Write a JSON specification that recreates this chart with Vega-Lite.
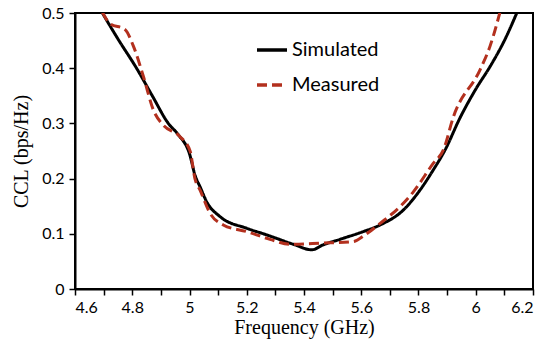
{
  "$schema": "https://vega.github.io/schema/vega-lite/v6.json",
  "autosize": "none",
  "padding": {"left": 75, "top": 13, "right": 17, "bottom": 61},
  "width": 458,
  "height": 276,
  "config": {
    "view": {"stroke": "black", "strokeWidth": 2},
    "axis": {
      "grid": false,
      "domainColor": "black",
      "domainWidth": 2,
      "tickColor": "black",
      "tickWidth": 1.5,
      "tickSize": 6,
      "labelFont": "Lato",
      "labelFontSize": 16,
      "labelColor": "black",
      "titleFont": "Liberation Serif",
      "titleFontSize": 20,
      "titleFontWeight": "normal",
      "titleColor": "black"
    }
  },
  "data": {
    "values": [
      {"f": 4.69, "ccl": 0.505, "s": "Simulated"},
      {"f": 4.75, "ccl": 0.453, "s": "Simulated"},
      {"f": 4.815, "ccl": 0.4, "s": "Simulated"},
      {"f": 4.87, "ccl": 0.35, "s": "Simulated"},
      {"f": 4.926, "ccl": 0.3, "s": "Simulated"},
      {"f": 4.96, "ccl": 0.28, "s": "Simulated"},
      {"f": 5.0, "ccl": 0.245, "s": "Simulated"},
      {"f": 5.02, "ccl": 0.205, "s": "Simulated"},
      {"f": 5.037, "ccl": 0.185, "s": "Simulated"},
      {"f": 5.06, "ccl": 0.158, "s": "Simulated"},
      {"f": 5.107, "ccl": 0.131, "s": "Simulated"},
      {"f": 5.2, "ccl": 0.11, "s": "Simulated"},
      {"f": 5.27, "ccl": 0.098, "s": "Simulated"},
      {"f": 5.363, "ccl": 0.081, "s": "Simulated"},
      {"f": 5.427, "ccl": 0.071, "s": "Simulated"},
      {"f": 5.467, "ccl": 0.08, "s": "Simulated"},
      {"f": 5.526, "ccl": 0.09, "s": "Simulated"},
      {"f": 5.607, "ccl": 0.104, "s": "Simulated"},
      {"f": 5.666, "ccl": 0.116, "s": "Simulated"},
      {"f": 5.747, "ccl": 0.143, "s": "Simulated"},
      {"f": 5.805, "ccl": 0.179, "s": "Simulated"},
      {"f": 5.852, "ccl": 0.216, "s": "Simulated"},
      {"f": 5.893, "ccl": 0.252, "s": "Simulated"},
      {"f": 5.945, "ccl": 0.31, "s": "Simulated"},
      {"f": 6.0, "ccl": 0.362, "s": "Simulated"},
      {"f": 6.05, "ccl": 0.403, "s": "Simulated"},
      {"f": 6.1, "ccl": 0.45, "s": "Simulated"},
      {"f": 6.145, "ccl": 0.502, "s": "Simulated"},
      {"f": 4.695, "ccl": 0.502, "s": "Measured"},
      {"f": 4.722, "ccl": 0.481, "s": "Measured"},
      {"f": 4.775, "ccl": 0.47, "s": "Measured"},
      {"f": 4.804, "ccl": 0.44, "s": "Measured"},
      {"f": 4.839, "ccl": 0.385, "s": "Measured"},
      {"f": 4.874, "ccl": 0.324, "s": "Measured"},
      {"f": 4.908, "ccl": 0.297, "s": "Measured"},
      {"f": 4.967, "ccl": 0.276, "s": "Measured"},
      {"f": 5.002, "ccl": 0.25, "s": "Measured"},
      {"f": 5.019, "ccl": 0.2, "s": "Measured"},
      {"f": 5.037, "ccl": 0.179, "s": "Measured"},
      {"f": 5.072, "ccl": 0.137, "s": "Measured"},
      {"f": 5.118, "ccl": 0.116, "s": "Measured"},
      {"f": 5.2, "ccl": 0.104, "s": "Measured"},
      {"f": 5.281, "ccl": 0.09, "s": "Measured"},
      {"f": 5.351, "ccl": 0.081, "s": "Measured"},
      {"f": 5.456, "ccl": 0.083, "s": "Measured"},
      {"f": 5.572, "ccl": 0.086, "s": "Measured"},
      {"f": 5.613, "ccl": 0.098, "s": "Measured"},
      {"f": 5.666, "ccl": 0.119, "s": "Measured"},
      {"f": 5.735, "ccl": 0.149, "s": "Measured"},
      {"f": 5.782, "ccl": 0.176, "s": "Measured"},
      {"f": 5.852, "ccl": 0.228, "s": "Measured"},
      {"f": 5.887, "ccl": 0.252, "s": "Measured"},
      {"f": 5.922, "ccl": 0.312, "s": "Measured"},
      {"f": 6.015, "ccl": 0.397, "s": "Measured"},
      {"f": 6.05, "ccl": 0.44, "s": "Measured"},
      {"f": 6.085, "ccl": 0.502, "s": "Measured"}
    ]
  },
  "mark": {"type": "line", "clip": true, "interpolate": "monotone", "strokeWidth": 3},
  "encoding": {
    "x": {
      "field": "f",
      "type": "quantitative",
      "scale": {"domain": [4.6, 6.2], "nice": false, "zero": false},
      "axis": {
        "title": "Frequency (GHz)",
        "values": [4.6, 4.7, 4.8, 4.9, 5.0, 5.1, 5.2, 5.3, 5.4, 5.5, 5.6, 5.7, 5.8, 5.9, 6.0, 6.1, 6.2],
        "format": "~g",
        "labelExpr": "round(datum.value*10)%2==0 ? datum.label : ''",
        "labelPadding": 4,
        "titlePadding": 2
      }
    },
    "y": {
      "field": "ccl",
      "type": "quantitative",
      "scale": {"domain": [0, 0.5], "nice": false},
      "axis": {
        "title": "CCL (bps/Hz)",
        "values": [0, 0.1, 0.2, 0.3, 0.4, 0.5],
        "format": "~g",
        "labelPadding": 5,
        "titlePadding": 10
      }
    },
    "color": {
      "field": "s",
      "type": "nominal",
      "scale": {"domain": ["Simulated", "Measured"], "range": ["black", "#B3301E"]},
      "legend": {
        "title": null,
        "orient": "none",
        "legendX": 180,
        "legendY": 20,
        "symbolType": "stroke",
        "symbolSize": 900,
        "symbolStrokeWidth": 3.5,
        "labelFont": "Lato",
        "labelFontSize": 20,
        "labelColor": "black",
        "labelOffset": 3,
        "rowPadding": 8
      }
    },
    "strokeDash": {
      "field": "s",
      "type": "nominal",
      "scale": {"domain": ["Simulated", "Measured"], "range": [[1, 0], [10, 5]]},
      "legend": null
    }
  }
}
